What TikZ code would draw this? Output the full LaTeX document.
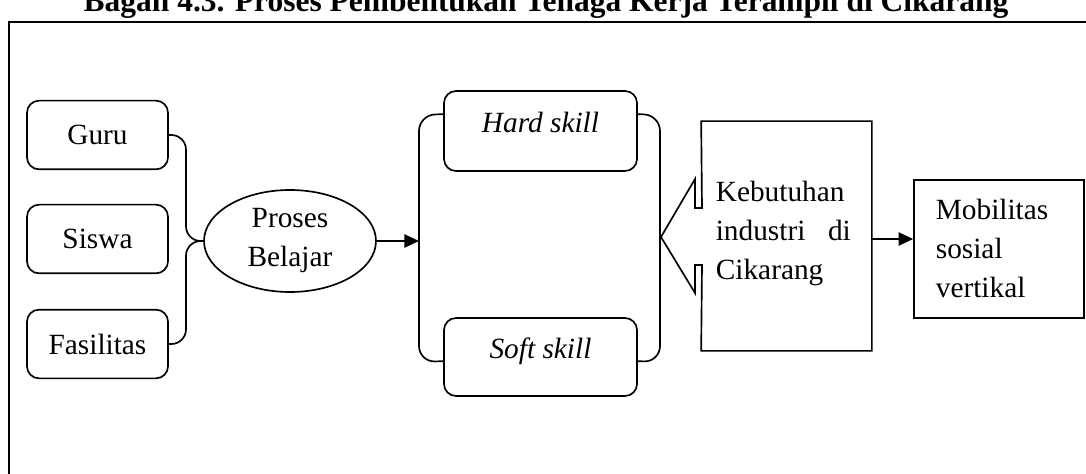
\documentclass[tikz,border=0pt]{standalone}
\usepackage{fontspec}
\setmainfont{Liberation Serif}
\usetikzlibrary{arrows.meta,shapes.geometric,calc}
\begin{document}
\begin{tikzpicture}[x=0.75pt,y=-0.75pt,line width=1.25pt,
  rbox/.style={draw,rounded corners=9pt,inner sep=0pt},
  sbox/.style={draw,inner sep=0pt},
  lbl/.style={font=\fontsize{22}{29.25}\selectfont,inner sep=0pt},
  arr/.style={-{Triangle[length=11pt,width=10pt]}},
  conn/.style={rounded corners=11pt}]
\useasboundingbox (0,0) rectangle (1086,474);
% title and frame
\node[anchor=base,inner sep=0pt,font=\bfseries\fontsize{23.6}{28}\selectfont] (title) at (546,12)
  {Bagan 4.3. Proses Pembentukan Tenaga Kerja Terampil di Cikarang};
\draw[line width=1.5pt] (9,480) -- (9,22) -- (1090,22);
% left boxes
\node[rbox,lbl,minimum width=105.75pt,minimum height=51.5pt] (guru) at (97.5,135) {Guru};
\node[rbox,lbl,minimum width=105.75pt,minimum height=51.5pt] (siswa) at (97.5,239) {Siswa};
\node[rbox,lbl,minimum width=105.75pt,minimum height=51.5pt] (fas) at (97.5,344) {Fasilitas};
% ellipse
\node[draw,ellipse,lbl,align=center,minimum width=129pt,minimum height=76.5pt] (proses) at (290,241) {Proses\\Belajar};
\draw[conn] (guru.east) -- (186,135) -- (186,241) -- (proses.west);
\draw[conn] (fas.east) -- (186,344) -- (186,241) -- (proses.west);
% skills
\node[rbox,minimum width=144.75pt,minimum height=60pt] (hard) at (540.5,131) {};
\node[lbl,anchor=base,font=\fontsize{22}{29.25}\selectfont\itshape] (hardtxt) at (540.5,133) {Hard skill};
\node[rbox,minimum width=144.75pt,minimum height=58.5pt] (soft) at (540.5,357) {};
\node[lbl,anchor=base,font=\fontsize{22}{29.25}\selectfont\itshape] (softtxt) at (540.5,358) {Soft skill};
\coordinate (bl) at (419,241);
\draw[arr] (proses.east) -- (bl);
\draw[rounded corners=12pt] ($(hard.north west)+(0,24)$) -- (419,115) -- (419,362) -- ($(soft.north west)+(0,44)$);
\draw[rounded corners=12pt] ($(hard.north east)+(0,24)$) -- (660,115) -- (660,362) -- ($(soft.north east)+(0,44)$);
% callout
\node[minimum width=126.75pt,minimum height=171pt,inner sep=0pt] (keb) at (786.5,236) {};
\draw[line join=miter] (keb.north west) -- (keb.north east) -- (keb.south east) -- (keb.south west)
  -- (702,265) -- (695,265) -- (695,293) -- (661,237) -- (695,179) -- (695,208) -- (702,208) -- cycle;
\node[lbl,anchor=north west,text width=101.25pt,align=left] (kebtxt) at (715,180)
  {Kebutuhan\\industri\hfill di\\Cikarang};
% mobilitas
\node[sbox,minimum width=127.5pt,minimum height=103.5pt] (mob) at (999,249) {};
\node[lbl,anchor=north west,align=left] (mobtxt) at (935,198) {Mobilitas\\sosial\\vertikal};
\coordinate (ym) at (0,239);
\draw[arr] (keb.east |- ym) -- (mob.west |- ym);
\end{tikzpicture}
\end{document}
